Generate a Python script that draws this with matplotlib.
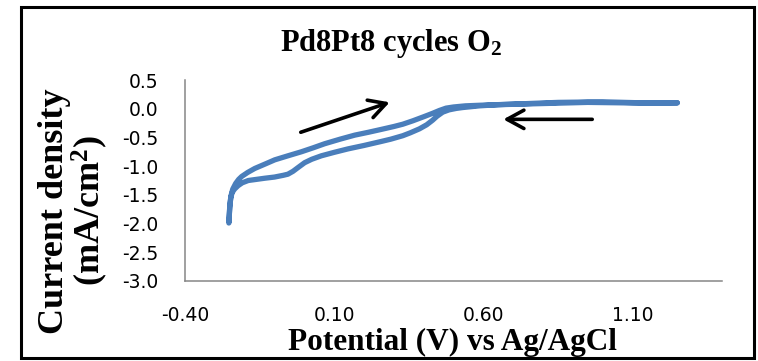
import matplotlib
matplotlib.use("Agg")
import matplotlib.pyplot as plt
from matplotlib.patches import Rectangle

matplotlib.rcParams.update({'font.size': 13, 'mathtext.default': 'regular'})

# cathodic sweep: from the positive end back down to the lowest potential
v_cath = [1.25, 1.10, 0.95, 0.80, 0.65, 0.587, 0.53, 0.509, 0.485, 0.464, 0.445,
          0.430, 0.410, 0.386, 0.355, 0.330, 0.290, 0.258, 0.200, 0.146, 0.100,
          0.057, 0.025, 0.001, -0.020, -0.038, -0.055, -0.071, -0.100, -0.132,
          -0.160, -0.188, -0.208, -0.222, -0.234, -0.242, -0.247, -0.250, -0.253]
j_cath = [0.10, 0.10, 0.11, 0.09, 0.07, 0.05, 0.02, 0.005, -0.02, -0.06, -0.13,
          -0.20, -0.28, -0.35, -0.42, -0.47, -0.53, -0.57, -0.64, -0.70, -0.76,
          -0.82, -0.88, -0.94, -1.02, -1.09, -1.14, -1.16, -1.19, -1.21,
          -1.23, -1.25, -1.29, -1.34, -1.40, -1.46, -1.56, -1.70, -1.99]
# anodic sweep: back up from the lowest potential
v_anod = [-0.253, -0.250, -0.246, -0.240, -0.230, -0.220, -0.210, -0.190, -0.166,
          -0.130, -0.099, -0.055, -0.010, 0.030, 0.068, 0.120, 0.169, 0.215,
          0.258, 0.300, 0.330, 0.364, 0.400, 0.430, 0.453, 0.475, 0.500, 0.540,
          0.587, 0.70, 0.85, 1.00, 1.15, 1.25]
j_anod = [-1.99, -1.72, -1.52, -1.40, -1.30, -1.23, -1.18, -1.11, -1.04,
          -0.96, -0.89, -0.82, -0.75, -0.68, -0.61, -0.53, -0.46, -0.41,
          -0.36, -0.31, -0.27, -0.21, -0.14, -0.08, -0.03, 0.01, 0.03, 0.05,
          0.06, 0.08, 0.11, 0.12, 0.10, 0.105]

x_ticks = [-0.40, 0.10, 0.60, 1.10]
y_ticks = [0.5, 0.0, -0.5, -1.0, -1.5, -2.0, -2.5, -3.0]

blue = '#4A7EBB'
serif = 'Liberation Serif'

fig = plt.figure(figsize=(7.58, 3.61), dpi=100)
ax = fig.add_axes([185/758, 1 - 281/361, 537/758, 201/361])

ax.plot(v_cath + v_anod, j_cath + j_anod, color=blue, lw=3.8,
        solid_capstyle='round', solid_joinstyle='round')

ax.set_xlim(-0.4, 1.4)
ax.set_ylim(-3.0, 0.5)
ax.set_xticks(x_ticks)
ax.set_xticklabels(["%.2f" % x for x in x_ticks])
ax.set_yticks(y_ticks)
ax.set_yticklabels(["%.1f" % y for y in y_ticks])
ax.tick_params(length=0, labelsize=13.5)
ax.tick_params(axis='x', pad=18)
ax.tick_params(axis='y', pad=19)
for s in ['top', 'right']:
    ax.spines[s].set_visible(False)
for s in ['left', 'bottom']:
    ax.spines[s].set_color('#868686')
    ax.spines[s].set_linewidth(1.1)

# scan direction arrows
arrow = dict(arrowstyle="->,head_length=0.55,head_width=0.3", color='black',
             lw=2.6, mutation_scale=22, shrinkA=0, shrinkB=0)
ax.annotate("", xy=(0.286, 0.112), xytext=(-0.012, -0.41), arrowprops=arrow)
ax.annotate("", xy=(0.667, -0.185), xytext=(0.965, -0.185), arrowprops=arrow)

fig.text(391/758, 1 - 44/361, "Pd8Pt8 cycles O$_2$", ha='center', va='center',
         fontsize=22, fontweight='bold', family=serif)
fig.text(74/758, 1 - 211/361, "Current density\n(mA/cm$^2$)", ha='center',
         va='center', rotation=90, fontsize=26, fontweight='bold', family=serif,
         linespacing=0.95)
fig.text(452/758, 1 - 350/361, "Potential (V) vs Ag/AgCl", ha='center',
         va='baseline', fontsize=22.5, fontweight='bold', family=serif)

fig.add_artist(Rectangle((21/758, 3/361), 733/758, 351/361, transform=fig.transFigure,
                         fill=False, edgecolor='black', lw=2.2))

fig.savefig("out.png", dpi=100)
